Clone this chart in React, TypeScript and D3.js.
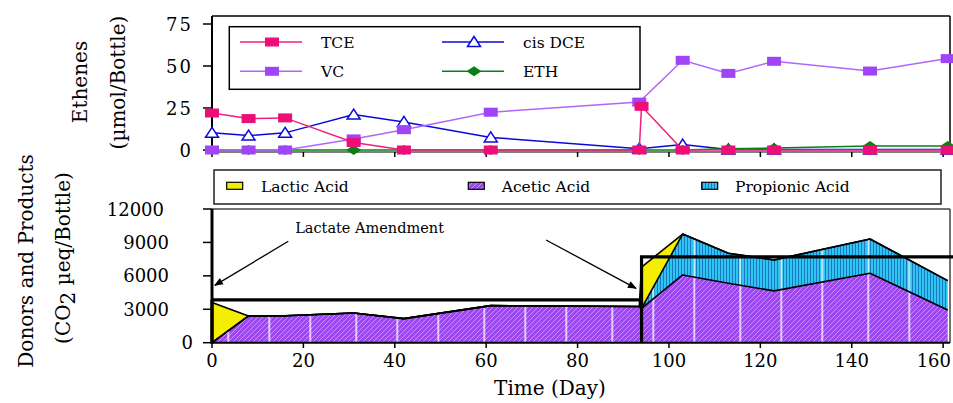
import React from 'react';
import * as d3 from 'd3';

// ---------- Top panel data (µmol/Bottle) ----------
const tceDays = [0, 8, 16, 31, 42, 61, 93.5, 94, 103, 113, 123, 144, 161];
const tceVals = [22, 18.7, 19.1, 4.5, 0, 0, 0, 26, 0, 0, 0, 0, 0];
const etheneDays = [0, 8, 16, 31, 42, 61, 93.5, 103, 113, 123, 144, 161];
const dceVals = [10.2, 8.6, 10.2, 21.1, 16.7, 7.5, 0.8, 3.2, 0.3, 0.3, 0.3, 0.3];
const vcVals = [0, 0, 0, 6.6, 12.1, 22.5, 28.5, 53.4, 45.6, 52.8, 47, 54.4];
const ethVals = [0, 0, 0, 0, 0, 0, 0, 0, 0.8, 1.2, 2.4, 2.4];
const topTicks = [0, 25, 50, 75];

// ---------- Bottom panel data (CO2 µeq/Bottle) ----------
const acidDays = [0, 8, 16, 31, 42, 61, 93.5, 94, 103, 113, 123, 144, 161];
const aceticVals = [0, 2400, 2420, 2670, 2160, 3330, 3250, 3090, 6080, 5330, 4650, 6230, 2940];
const propionicVals = [0, 0, 0, 0, 0, 0, 0, 0, 3670, 2700, 2780, 3080, 2630];
const lacticVals = [3600, 0, 0, 0, 0, 0, 0, 3700, 0, 0, 0, 0, 0];
const bottomTicks = [0, 3000, 6000, 9000, 12000];
const xTicks = [0, 20, 40, 60, 80, 100, 120, 140, 160];

// cumulative lactate amendment (step)
const amendDays = [0, 94];
const amendLevels = [3850, 7700];
const amendEnd = 162.2;

const FONT = '"DejaVu Serif", "Liberation Serif", serif';

const x = d3.scaleLinear().domain([0, 161.5]).range([212, 950]);
const yTop = d3.scaleLinear().domain([0, 75]).range([150, 24]);
const yBot = d3.scaleLinear().domain([0, 12000]).range([342.7, 209]);

type Pt = [number, number];
const zip = (ds: number[], vs: number[]): Pt[] => ds.map((d, i) => [d, vs[i]]);

const topLine = d3.line<Pt>().x(d => x(d[0])).y(d => yTop(d[1]));

function Square({ cx, cy, color }: { cx: number; cy: number; color: string }) {
  return <rect x={cx - 7} y={cy - 4.5} width={14} height={9} fill={color} />;
}
function Triangle({ cx, cy, color }: { cx: number; cy: number; color: string }) {
  return (
    <path d={`M${cx - 6.5},${cy + 4.5}L${cx + 6.5},${cy + 4.5}L${cx},${cy - 5.5}Z`} fill="#fff" stroke={color} strokeWidth={1.5} />
  );
}
function Diamond({ cx, cy, color }: { cx: number; cy: number; color: string }) {
  return <path d={`M${cx - 7.5},${cy}L${cx},${cy - 5}L${cx + 7.5},${cy}L${cx},${cy + 5}Z`} fill={color} />;
}

const series = [
  { name: 'cis DCE', days: etheneDays, vals: dceVals, color: '#0a0ad8', line: '#0a0ad8', M: Triangle },
  { name: 'ETH', days: etheneDays, vals: ethVals, color: '#0a7f14', line: '#0a7f14', M: Diamond },
  { name: 'VC', days: etheneDays, vals: vcVals, color: '#a044f8', line: '#b066fa', M: Square },
  { name: 'TCE', days: tceDays, vals: tceVals, color: '#ee0e78', line: '#f0207e', M: Square },
];

export default function App() {
  // stacked areas
  const rows = acidDays.map((d, i) => ({ day: d, acetic: aceticVals[i], propionic: propionicVals[i], lactic: lacticVals[i] }));
  const stack = d3.stack<any>().keys(['acetic', 'propionic', 'lactic'])(rows);
  const area = d3
    .area<any>()
    .x(d => x(d.data.day))
    .y0(d => yBot(d[0]))
    .y1(d => yBot(d[1]));
  const topEdge = d3
    .line<any>()
    .x(d => x(d.data.day))
    .y(d => yBot(d[1]));
  const fills: Record<string, string> = {
    acetic: 'url(#acetHatch)',
    propionic: 'url(#propHatch)',
    lactic: '#f6ee00',
  };

  // amendment step path
  const stepPts: Pt[] = [];
  amendDays.forEach((d, i) => {
    stepPts.push([d, i === 0 ? amendLevels[0] : amendLevels[i - 1]]);
    stepPts.push([d, amendLevels[i]]);
  });
  stepPts.push([amendEnd, amendLevels[amendLevels.length - 1]]);
  const stepLine = d3.line<Pt>().x(d => x(d[0])).y(d => yBot(d[1]));

  const legendTop = [
    { s: series[3], lx: 240, ty: 42 },
    { s: series[2], lx: 240, ty: 71.3 },
    { s: series[0], lx: 442, ty: 42 },
    { s: series[1], lx: 442, ty: 71.3 },
  ];

  const legendBot = [
    { name: 'Lactic Acid', fill: '#f6ee00', sx: 226.7, tx: 261 },
    { name: 'Acetic Acid', fill: 'url(#acetHatch)', sx: 468.3, tx: 501.7 },
    { name: 'Propionic Acid', fill: 'url(#propHatch)', sx: 701.7, tx: 735 },
  ];

  const yLabelEnd = (v: number) => (v === 0 ? 193 : v >= 10000 ? 164 : 169);

  return (
    <svg width={953} height={403} style={{ position: 'absolute', left: 0, top: 0, background: '#fff' }} fontFamily={FONT}>
      <defs>
        <pattern id="acetHatch" patternUnits="userSpaceOnUse" width={5} height={5}>
          <rect width={5} height={5} fill="#9e46f2" />
          <path d="M-1,1L1,-1M0,5L5,0M4,6L6,4" stroke="#c99aff" strokeWidth={0.9} />
        </pattern>
        <pattern id="propHatch" patternUnits="userSpaceOnUse" width={3} height={10}>
          <rect width={3} height={10} fill="#2ec6f0" />
          <line x1={0.5} y1={0} x2={0.5} y2={10} stroke="#1a6fbf" strokeWidth={0.9} />
        </pattern>
        <pattern id="vLines" patternUnits="userSpaceOnUse" x={100.3} y={0} width={128} height={20}>
          <line x1={0} y1={0} x2={0} y2={20} stroke="#fff" strokeWidth={1.4} />
          <line x1={41} y1={0} x2={41} y2={20} stroke="#fff" strokeWidth={1.4} />
          <line x1={82} y1={0} x2={82} y2={20} stroke="#fff" strokeWidth={1.4} />
          <line x1={128} y1={0} x2={128} y2={20} stroke="#fff" strokeWidth={1.4} />
        </pattern>
        <marker id="arrow" viewBox="0 0 10 10" refX={9} refY={5} markerWidth={12} markerHeight={9} markerUnits="userSpaceOnUse" orient="auto">
          <path d="M0,1L10,5L0,9Z" fill="#000" />
        </marker>
      </defs>

      {/* ================= TOP PANEL ================= */}
      <text transform="translate(87,82) rotate(-90)" textAnchor="middle" fontSize={20}>Ethenes</text>
      <text transform="translate(125,82.5) rotate(-90)" textAnchor="middle" fontSize={20}>(µmol/Bottle)</text>

      {/* frame */}
      <line x1={212} y1={16} x2={950} y2={16} stroke="#000" strokeWidth={1.5} />
      <line x1={950} y1={16} x2={950} y2={152} stroke="#000" strokeWidth={1.5} />
      <line x1={212} y1={152} x2={950} y2={152} stroke="#000" strokeWidth={1.2} />
      <line x1={212} y1={16} x2={212} y2={152} stroke="#000" strokeWidth={2} />
      {topTicks.map(t => (
        <g key={t}>
          <line x1={203} x2={212} y1={yTop(t)} y2={yTop(t)} stroke="#000" strokeWidth={1.5} />
          <text x={193} y={yTop(t) + 6.5} textAnchor="end" fontSize={18} letterSpacing={2}>{t}</text>
        </g>
      ))}
      {xTicks.map(t => (
        <line key={t} x1={x(t)} x2={x(t)} y1={152} y2={157} stroke="#000" strokeWidth={1.5} />
      ))}

      {/* legend */}
      <rect x={229.3} y={26.7} width={410.7} height={62.6} fill="#fff" stroke="#000" strokeWidth={1.5} />
      {legendTop.map(({ s, lx, ty }) => {
        const M = s.M;
        return (
          <g key={s.name}>
            <line x1={lx} x2={lx + 62} y1={ty} y2={ty} stroke={s.line} strokeWidth={1.5} />
            <M cx={lx + 32} cy={ty} color={s.color} />
            <text x={lx + 81} y={ty + 6} fontSize={15.5}>{s.name}</text>
          </g>
        );
      })}

      {/* series */}
      {series.map(s => {
        const pts = zip(s.days, s.vals);
        const M = s.M;
        return (
          <g key={s.name}>
            <path d={topLine(pts) || ''} fill="none" stroke={s.line} strokeWidth={1.5} />
            {pts.map((p, i) => (
              <M key={i} cx={x(p[0])} cy={yTop(p[1])} color={s.color} />
            ))}
          </g>
        );
      })}

      {/* ================= BOTTOM PANEL ================= */}
      <text transform="translate(33,261) rotate(-90)" textAnchor="middle" fontSize={20}>Donors and Products</text>
      <text transform="translate(70,258) rotate(-90)" textAnchor="middle" fontSize={20}>
        (CO<tspan dy={5}>2</tspan><tspan dy={-5}> µeq/Bottle)</tspan>
      </text>

      {/* legend */}
      <rect x={214} y={170} width={727} height={34} fill="#fff" stroke="#222" strokeWidth={1.5} />
      {legendBot.map(l => (
        <g key={l.name}>
          <rect x={l.sx} y={182.3} width={16} height={7} fill={l.fill} stroke="#000" strokeWidth={1.2} />
          <text x={l.tx} y={192} fontSize={15.5}>{l.name}</text>
        </g>
      ))}

      {/* frame */}
      <line x1={212} y1={209} x2={950} y2={209} stroke="#444" strokeWidth={1.5} />
      <line x1={950} y1={209} x2={950} y2={343} stroke="#444" strokeWidth={1.5} />

      {/* stacked areas */}
      {stack.map(layer => (
        <g key={layer.key}>
          <path d={area(layer) || ''} fill={fills[layer.key]} />
          {layer.key !== 'lactic' && <path d={area(layer) || ''} fill="url(#vLines)" />}
        </g>
      ))}
      {stack.map(layer => (
        <path key={layer.key + 'e'} d={topEdge(layer) || ''} fill="none" stroke="#000" strokeWidth={1.6} strokeLinejoin="round" />
      ))}

      {/* lactate amendment step */}
      <path d={stepLine(stepPts) || ''} fill="none" stroke="#000" strokeWidth={3.2} />
      {amendDays.map(d => (
        <line key={d} x1={x(d)} x2={x(d)} y1={yBot(0)} y2={yBot(3850)} stroke="#000" strokeWidth={3.2} />
      ))}

      {/* axes */}
      <line x1={212} y1={209} x2={212} y2={344} stroke="#000" strokeWidth={3} />
      <line x1={211} y1={342.7} x2={950} y2={342.7} stroke="#000" strokeWidth={2} />
      {bottomTicks.map(t => (
        <g key={t}>
          <line x1={203} x2={212} y1={yBot(t)} y2={yBot(t)} stroke="#000" strokeWidth={1.5} />
          <text x={yLabelEnd(t)} y={yBot(t) + 6.5} textAnchor="end" fontSize={18}>{t}</text>
        </g>
      ))}
      {xTicks.map(t => {
        const tx = x(t);
        const last = tx + 18 > 952;
        return (
          <g key={t}>
            <line x1={tx} x2={tx} y1={342.7} y2={348} stroke="#000" strokeWidth={1.5} />
            <text x={last ? 951 : tx} y={367} textAnchor={last ? 'end' : 'middle'} fontSize={18}>{t}</text>
          </g>
        );
      })}
      <text x={550} y={395} textAnchor="middle" fontSize={20}>Time (Day)</text>

      {/* annotation */}
      <text x={x(18.2)} y={233} fontSize={14.5}>Lactate Amendment</text>
      <line x1={x(16.7)} y1={yBot(9100)} x2={x(0.6)} y2={yBot(5150)} stroke="#000" strokeWidth={1.3} markerEnd="url(#arrow)" />
      <line x1={x(73.1)} y1={yBot(9220)} x2={x(92.8)} y2={yBot(4880)} stroke="#000" strokeWidth={1.3} markerEnd="url(#arrow)" />
    </svg>
  );
}
